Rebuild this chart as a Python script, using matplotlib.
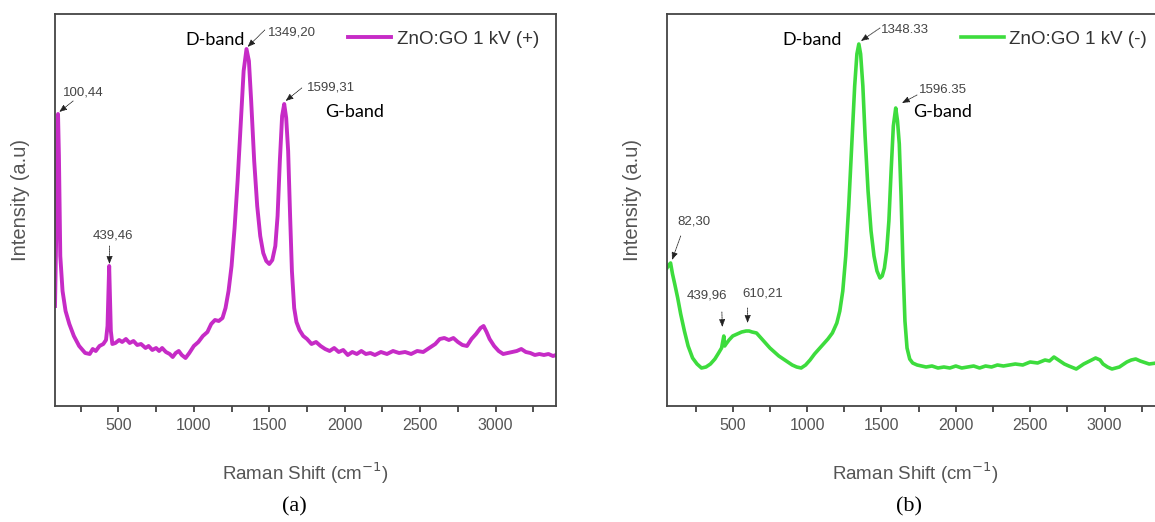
import matplotlib
matplotlib.use("Agg")
import matplotlib.pyplot as plt
from matplotlib.ticker import MultipleLocator

# ---- data (intensity in arbitrary units) ----
pos_shift = [80, 88, 95, 100, 106, 115, 130, 150, 175, 205, 240, 280, 310, 330, 350,
             375, 400, 418, 428, 434, 439, 444, 450, 460, 480, 505, 525, 550, 575, 600,
             625, 650, 680, 700, 725, 750, 770, 790, 815, 840, 860, 880, 900, 920, 945,
             970, 1000, 1030, 1060, 1090, 1115, 1140, 1165, 1190, 1210, 1230, 1250, 1270,
             1290, 1310, 1330, 1349, 1365, 1380, 1400, 1420, 1440, 1460, 1480, 1500, 1520,
             1540, 1555, 1570, 1585, 1599, 1612, 1625, 1638, 1650, 1665, 1680, 1700, 1725,
             1750, 1780, 1810, 1840, 1870, 1900, 1930, 1960, 1990, 2020, 2050, 2080, 2110,
             2140, 2170, 2200, 2240, 2280, 2320, 2360, 2400, 2440, 2480, 2520, 2560, 2600,
             2630, 2660, 2690, 2720, 2750, 2780, 2810, 2840, 2870, 2900, 2920, 2940, 2960,
             2990, 3020, 3050, 3080, 3110, 3140, 3170, 3200, 3230, 3260, 3290, 3320, 3350,
             3380, 3400]
pos_int = [100, 170, 265, 292, 250, 150, 115, 95, 82, 70, 60, 53, 52, 57, 55,
           60, 62, 66, 80, 115, 140, 112, 75, 62, 63, 66, 64, 67, 63, 65,
           61, 62, 58, 60, 56, 58, 55, 58, 54, 52, 49, 53, 55, 51, 48,
           53, 60, 64, 70, 74, 82, 86, 85, 88, 98, 115, 140, 178,
           225, 280, 335, 357, 345, 305, 245, 200, 170, 153, 145, 142, 146,
           160, 190, 245, 290, 302, 288, 255, 190, 135, 98, 84, 76, 70,
           67, 62, 64, 60, 57, 55, 58, 54, 56, 51, 54, 52, 55,
           52, 53, 51, 54, 52, 55, 53, 54, 52, 55, 54, 58, 62,
           67, 68, 66, 68, 64, 61, 60, 67, 72, 78, 80, 74, 67,
           60, 55, 52, 53, 54, 55, 57, 54, 53, 51, 52, 51, 52,
           50, 51]

neg_shift = [58, 70, 82, 95, 110, 130, 150, 175, 200, 230, 260, 290, 320, 350, 380,
             405, 425, 435, 440, 446, 455, 475, 500, 530, 560, 590, 610, 630, 660, 690,
             720, 750, 780, 810, 840, 870, 900, 930, 960, 990, 1020, 1050, 1080, 1110,
             1140, 1170, 1200, 1220, 1240, 1260, 1280, 1300, 1320, 1335, 1348, 1360, 1375,
             1390, 1410, 1430, 1450, 1470, 1490, 1505, 1520, 1535, 1550, 1565, 1580, 1596,
             1608, 1620, 1632, 1645, 1658, 1672, 1690, 1710, 1740, 1770, 1800, 1840, 1880,
             1920, 1960, 2000, 2040, 2080, 2120, 2160, 2200, 2240, 2280, 2320, 2360, 2400,
             2450, 2500, 2550, 2600, 2630, 2660, 2700, 2730, 2760, 2810, 2860, 2900, 2940,
             2970, 2990, 3020, 3050, 3100, 3150, 3180, 3210, 3240, 3260, 3300, 3350, 3400]
neg_int = [138, 141, 143, 132, 122, 108, 92, 75, 60, 48, 42, 38, 39, 42, 47,
           53, 58, 66, 70, 60, 62, 66, 70, 72, 74, 75, 75, 74, 73, 68,
           63, 58, 54, 50, 47, 44, 41, 39, 38, 41, 46, 52, 57, 62,
           67, 73, 83, 95, 115, 150, 200, 260, 320, 352, 362, 352, 320,
           270, 215, 175, 150, 135, 128, 130, 138, 155, 185, 235, 280, 298,
           285, 262, 210, 140, 85, 58, 47, 43, 41, 40, 39, 40, 38,
           39, 38, 40, 38, 39, 40, 38, 40, 39, 41, 40, 41, 42,
           41, 44, 43, 46, 45, 49, 45, 42, 40, 37, 42, 45, 48,
           46, 42, 39, 37, 39, 44, 46, 47, 45, 44, 42, 43, 42]

pos_label = "ZnO:GO 1 kV (+)"
neg_label = "ZnO:GO 1 kV (-)"

fig = plt.figure(figsize=(11.55, 5.22), dpi=100)
W, H = 1155.0, 522.0
ax1 = fig.add_axes([55 / W, 116 / H, 501 / W, 392 / H])
ax2 = fig.add_axes([667 / W, 116 / H, 497 / W, 392 / H])

sans = ["Liberation Sans", "DejaVu Sans"]


def style_axis(ax, xmin):
    ax.set_xlim(xmin, 3400)
    ax.set_ylim(0, 392)
    ax.set_yticks([])
    ax.xaxis.set_major_locator(MultipleLocator(500))
    ax.xaxis.set_minor_locator(MultipleLocator(250))
    ax.tick_params(axis="x", which="both", direction="out", length=4, width=1.2,
                   colors="#333333", labelsize=11.5, pad=5)
    ax.tick_params(axis="x", which="major", labelcolor="#555555")
    for lab in ax.get_xticklabels():
        lab.set_family(sans)
    for s in ax.spines.values():
        s.set_color("#444444")
        s.set_linewidth(1.3)
    ax.set_xlabel("Raman Shift (cm$^{-1}$)", fontsize=13.5, color="#555555", family=sans)
    ax.set_ylabel("Intensity (a.u)", fontsize=14.5, color="#555555", family=sans)
    ax.xaxis.set_label_coords(0.5, -0.14)
    ax.yaxis.set_label_coords(-0.05, 0.526)


def peak_note(ax, label, text_xy, tail, head):
    ax.text(text_xy[0], text_xy[1], label, fontsize=9.5, color="#444444",
            ha="center", va="center", family=sans)
    ax.annotate("", xy=head, xytext=tail,
                arrowprops=dict(arrowstyle="-|>,head_length=0.45,head_width=0.18",
                                color="#222222", lw=0.6, linestyle=(0, (1, 1)),
                                shrinkA=0, shrinkB=0))


def band(ax, label, x, y, ha):
    ax.text(x, y, label, fontsize=13, color="black", ha=ha, va="center",
            family=["Lato", "DejaVu Sans"])


# (a) positive
ax1.plot(pos_shift, pos_int, color="#c62bc6", lw=2.8, label=pos_label)
style_axis(ax1, 80)
leg = ax1.legend(loc="upper right", frameon=False, handlelength=2.3, handletextpad=0.3,
                 bbox_to_anchor=(1.0, 1.0), prop={"family": sans, "size": 13.5})
for t in leg.get_texts():
    t.set_color("#333333")
peak_note(ax1, "100,44", (266, 314), (200, 305), (108, 294))
peak_note(ax1, "439,46", (464, 170), (441, 160), (441, 142))
peak_note(ax1, "1349,20", (1651, 374), (1470, 376), (1356, 359))
peak_note(ax1, "1599,31", (1909, 319), (1715, 318), (1608, 305))
band(ax1, "D-band", 1335, 366, "right")
band(ax1, "G-band", 1869, 294, "left")

# (b) negative
ax2.plot(neg_shift, neg_int, color="#3ddc3d", lw=2.6, label=neg_label)
style_axis(ax2, 58)
leg = ax2.legend(loc="upper right", frameon=False, handlelength=2.3, handletextpad=0.3,
                 bbox_to_anchor=(1.0, 1.0), prop={"family": sans, "size": 13.5})
for t in leg.get_texts():
    t.set_color("#333333")
peak_note(ax2, "1348.33", (1658, 376), (1490, 378), (1362, 365))
peak_note(ax2, "1596.35", (1914, 316), (1739, 311), (1638, 303))
peak_note(ax2, "82,30", (240, 184), (150, 170), (92, 146))
peak_note(ax2, "439,96", (327, 111), (427, 94), (430, 79))
peak_note(ax2, "610,21", (703, 113), (600, 98), (600, 83))
band(ax2, "D-band", 1235, 366, "right")
band(ax2, "G-band", 1712, 294, "left")

fig.text(294 / W, 1 - 507 / H, "(a)", fontsize=16, ha="center", va="center",
         family=["Liberation Serif", "DejaVu Serif"])
fig.text(909 / W, 1 - 507 / H, "(b)", fontsize=16, ha="center", va="center",
         family=["Liberation Serif", "DejaVu Serif"])

fig.savefig("out.png", dpi=100)
